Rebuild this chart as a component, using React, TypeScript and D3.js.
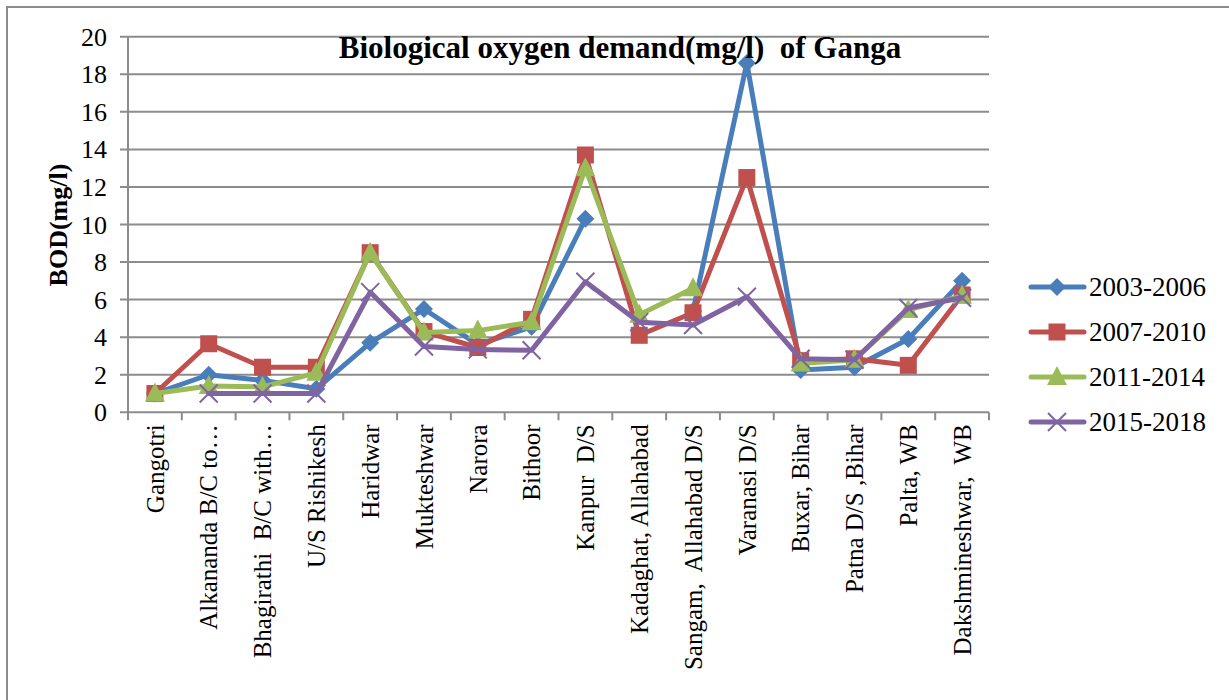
import React from "react";
import * as d3 from "d3";

const categories = [
  "Gangotri",
  "Alkananda B/C to…",
  "Bhagirathi  B/C with…",
  "U/S Rishikesh",
  "Haridwar",
  "Mukteshwar",
  "Narora",
  "Bithoor",
  "Kanpur  D/S",
  "Kadaghat, Allahabad",
  "Sangam,  Allahabad D/S",
  "Varanasi D/S",
  "Buxar, Bihar",
  "Patna D/S ,Bihar",
  "Palta, WB",
  "Dakshmineshwar,  WB",
];

const s2003 = [1.0, 2.0, 1.7, 1.25, 3.7, 5.5, 3.6, 4.55, 10.3, null, 5.4, 18.6, 2.25, 2.4, 3.9, 7.0];
const s2007 = [1.0, 3.65, 2.4, 2.4, 8.5, 4.3, 3.45, 4.95, 13.7, 4.1, 5.3, 12.5, 2.75, 2.85, 2.5, 6.25];
const s2011 = [1.0, 1.4, 1.35, 2.1, 8.5, 4.25, 4.35, 4.8, 13.0, 5.2, 6.6, null, 2.6, 2.8, 5.45, 6.2];
const s2015 = [null, 1.0, 1.0, 1.0, 6.4, 3.5, 3.35, 3.3, 6.95, 4.8, 4.65, 6.15, 2.85, 2.8, 5.55, 6.1];

const seriesNames = ["2003-2006", "2007-2010", "2011-2014", "2015-2018"];
const seriesColors = ["#4A7EBB", "#C0504D", "#9BBB59", "#8064A2"];
const seriesMarkers = ["diamond", "square", "triangle", "x"];
const seriesData = [s2003, s2007, s2011, s2015];

const yTicks = [0, 2, 4, 6, 8, 10, 12, 14, 16, 18, 20];

const FONT = "Liberation Serif";

function Marker({ type, x, y, color }: { type: string; x: number; y: number; color: string }) {
  if (type === "diamond") {
    const r = 9;
    return <path d={`M${x},${y - r}L${x + r},${y}L${x},${y + r}L${x - r},${y}Z`} fill={color} />;
  }
  if (type === "square") {
    const h = 8.5;
    return <rect x={x - h} y={y - h} width={2 * h} height={2 * h} fill={color} />;
  }
  if (type === "triangle") {
    return <path d={`M${x},${y - 11}L${x + 10},${y + 8}L${x - 10},${y + 8}Z`} fill={color} />;
  }
  const r = 9;
  return (
    <path
      d={`M${x - r},${y - r}L${x + r},${y + r}M${x - r},${y + r}L${x + r},${y - r}`}
      stroke={color}
      strokeWidth={2}
      fill="none"
    />
  );
}

export default function App() {
  const W = 1229;
  const H = 700;
  const left = 128;
  const right = 989;
  const top = 36.7;
  const bottom = 412.3;

  const x = d3.scaleBand<string>().domain(categories).range([left, right]).padding(0);
  const y = d3.scaleLinear().domain([0, 20]).range([bottom, top]);
  const cx = (i: number) => (x(categories[i]) as number) + x.bandwidth() / 2;

  const line = d3
    .line<number | null>()
    .defined((d) => d != null)
    .x((_, i) => cx(i))
    .y((d) => y(d as number));

  const gridColor = "#8C8C8C";
  const legendY = [287, 332, 377, 422];
  const txt = { fontFamily: FONT, whiteSpace: "pre" as const };

  return (
    <svg width={W} height={H} style={{ position: "absolute", left: 0, top: 0, background: "#fff" }}>
      <rect x={0} y={0} width={W} height={H} fill="#fff" />
      <rect x={7} y={7} width={1260} height={740} fill="none" stroke="#8C8C8C" strokeWidth={2} />

      {yTicks.map((t) => (
        <line key={t} x1={left - 8} x2={right} y1={y(t)} y2={y(t)} stroke={gridColor} strokeWidth={2} />
      ))}
      <line x1={left} x2={left} y1={top} y2={bottom} stroke={gridColor} strokeWidth={2} />
      {d3.range(categories.length + 1).map((i) => {
        const xx = left + i * x.bandwidth();
        return <line key={i} x1={xx} x2={xx} y1={bottom} y2={bottom + 8} stroke={gridColor} strokeWidth={2} />;
      })}

      {yTicks.map((t) => (
        <text key={t} x={107} y={y(t)} dy="0.35em" textAnchor="end" fontSize={26} fill="#000" style={txt}>
          {t}
        </text>
      ))}

      {categories.map((c, i) => (
        <text
          key={c}
          transform={`translate(${cx(i)},${bottom + 12}) rotate(-90)`}
          dy="0.35em"
          textAnchor="end"
          fontSize={25}
          fill="#000"
          style={txt}
        >
          {c}
        </text>
      ))}

      <text
        transform={`translate(58,225) rotate(-90)`}
        dy="0.35em"
        textAnchor="middle"
        fontSize={26}
        fontWeight="bold"
        fill="#000"
        style={txt}
      >
        BOD(mg/l)
      </text>

      {seriesData.map((s, k) => (
        <g key={k}>
          <path d={line(s) || ""} fill="none" stroke={seriesColors[k]} strokeWidth={5} strokeLinejoin="round" strokeLinecap="round" />
          {s.map((v, i) =>
            v == null ? null : <Marker key={i} type={seriesMarkers[k]} x={cx(i)} y={y(v)} color={seriesColors[k]} />
          )}
        </g>
      ))}

      <text x={620} y={58} textAnchor="middle" fontSize={31} fontWeight="bold" fill="#000" style={txt}>
        Biological oxygen demand(mg/l)  of Ganga
      </text>

      {seriesNames.map((n, k) => (
        <g key={n}>
          <line x1={1031} x2={1084} y1={legendY[k]} y2={legendY[k]} stroke={seriesColors[k]} strokeWidth={5} strokeLinecap="round" />
          <Marker type={seriesMarkers[k]} x={1057} y={legendY[k]} color={seriesColors[k]} />
          <text x={1089} y={legendY[k]} dy="0.35em" fontSize={27} fill="#000" style={txt}>
            {n}
          </text>
        </g>
      ))}
    </svg>
  );
}
